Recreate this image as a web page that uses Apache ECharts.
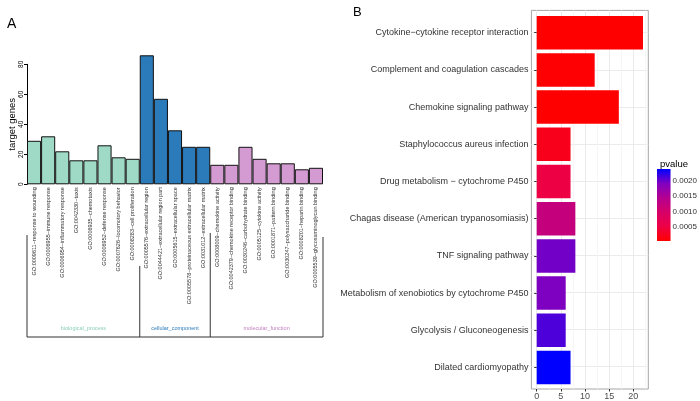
<!DOCTYPE html>
<html><head><meta charset="utf-8">
<script src="https://cdn.jsdelivr.net/npm/echarts@6/dist/echarts.min.js"></script>
<style>html,body{margin:0;padding:0;background:#fff}#c{width:700px;height:401px}</style>
</head><body><div id="c"></div>
<script>
// ---------- Panel A: GO terms ----------
const goTerms = [
  'GO:0009611~response to wounding',
  'GO:0006955~immune response',
  'GO:0006954~inflammatory response',
  'GO:0042330~taxis',
  'GO:0006935~chemotaxis',
  'GO:0006952~defense response',
  'GO:0007626~locomotory behavior',
  'GO:0008283~cell proliferation',
  'GO:0005576~extracellular region',
  'GO:0044421~extracellular region part',
  'GO:0005615~extracellular space',
  'GO:0005578~proteinaceous extracellular matrix',
  'GO:0031012~extracellular matrix',
  'GO:0008009~chemokine activity',
  'GO:0042379~chemokine receptor binding',
  'GO:0030246~carbohydrate binding',
  'GO:0005125~cytokine activity',
  'GO:0001871~pattern binding',
  'GO:0030247~polysaccharide binding',
  'GO:0008201~heparin binding',
  'GO:0005539~glycosaminoglycan binding'
];
const goCounts = [29, 32, 22, 16, 16, 26, 18, 17, 86, 57, 36, 25, 25, 13, 13, 25, 17, 14, 14, 10, 11];
const goGroupNames = ['biological_process', 'cellular_component', 'molecular_function'];
const goGroupSizes = [8, 5, 8];
const goTicks = [0, 20, 40, 60, 80];

// ---------- Panel B: KEGG pathways ----------
const keggTerms = [
  'Cytokine\u2212cytokine receptor interaction',
  'Complement and coagulation cascades',
  'Chemokine signaling pathway',
  'Staphylococcus aureus infection',
  'Drug metabolism \u2212 cytochrome P450',
  'Chagas disease (American trypanosomiasis)',
  'TNF signaling pathway',
  'Metabolism of xenobiotics by cytochrome P450',
  'Glycolysis / Gluconeogenesis',
  'Dilated cardiomyopathy'
];
const keggCounts = [22, 12, 17, 7, 7, 8, 8, 6, 6, 7];
const keggPvalues = [0.00005, 0.00007, 0.00006, 0.00024, 0.00052, 0.00122, 0.00196, 0.00192, 0.00210, 0.00238];
const countTicks = [0, 5, 10, 15, 20];
const countMinorTicks = [2.5, 7.5, 12.5, 17.5, 22.5];
const pvalueTicks = [0.0005, 0.0010, 0.0015, 0.0020];

// ---------- styles ----------
const groupColors = ['#9fdac7', '#2b7bba', '#d49bd3'];
const groupTextColors = ['#8ccfb9', '#2b7bba', '#c27fc0'];
const pColors = ['#ff0000', '#ee0045', '#d70068', '#b40090', '#8000c0', '#0000ff'];
const FONT = 'Liberation Sans, Arial, sans-serif';

const pMin = Math.min(...keggPvalues);
const pMax = Math.max(...keggPvalues);
const countMin = -1.1, countMax = 23.1;

const groupOfIndex = [];
goGroupSizes.forEach((s, g) => { for (let k = 0; k < s; k++) groupOfIndex.push(g); });

const chart = echarts.init(document.getElementById('c'));

const option = {
  animation: false,
  backgroundColor: '#fff',
  textStyle: { fontFamily: FONT },
  title: [
    { text: 'A', left: 2, top: 12, textStyle: { fontSize: 14, fontWeight: 'normal', color: '#000', fontFamily: FONT } },
    { text: 'B', left: 348, top: 1, textStyle: { fontSize: 13, fontWeight: 'normal', color: '#000', fontFamily: FONT } },
    { text: 'pvalue', left: 655, top: 154, textStyle: { fontSize: 9.5, fontWeight: 'normal', color: '#000', fontFamily: FONT } }
  ],
  grid: [
    { left: 27, top: 64.3, width: 296, height: 120 },               // A
    { left: 531.4, top: 14.1, width: 116.9, height: 372 },          // B bars
    { left: 531.4, top: 10.4, width: 116.9, height: 379.4, show: true, borderColor: '#a6a6a6', borderWidth: 1, backgroundColor: 'transparent' }, // B panel
    { left: 657, top: 169, width: 15, height: 72 }                  // colorbar
  ],
  xAxis: [
    { type: 'category', gridIndex: 0, data: goTerms,
      axisLine: { show: false }, axisTick: { show: false },
      axisLabel: { rotate: 90, interval: 0, fontSize: 5.5, margin: 3, color: '#333', fontFamily: FONT } },
    { type: 'value', gridIndex: 1, min: countMin, max: countMax, show: false },
    { type: 'value', gridIndex: 2, min: countMin, max: countMax,
      axisLine: { show: false },
      axisTick: { show: true, length: 2.5, lineStyle: { color: '#333', width: 1 }, customValues: countTicks },
      axisLabel: { show: true, fontSize: 9, margin: 3, color: '#4d4d4d', customValues: countTicks, fontFamily: FONT },
      splitLine: { show: true, lineStyle: { color: '#ebebeb', width: 1 } } },
    { type: 'value', gridIndex: 2, min: countMin, max: countMax,
      axisLine: { show: false },
      axisTick: { show: false, customValues: countMinorTicks },
      axisLabel: { show: false },
      splitLine: { show: true, lineStyle: { color: '#f4f4f4', width: 0.8 } } },
    { type: 'category', gridIndex: 3, data: ['p'], show: false }
  ],
  yAxis: [
    { type: 'value', gridIndex: 0, min: 0, max: 80, interval: 20,
      name: 'target genes', nameLocation: 'middle', nameGap: 9, nameRotate: 90,
      nameTextStyle: { fontSize: 9.5, color: '#000', fontFamily: FONT },
      axisLine: { show: true, lineStyle: { color: '#000', width: 1 } },
      axisTick: { show: true, length: 3, lineStyle: { color: '#000' } },
      axisLabel: { rotate: 90, fontSize: 6.5, margin: 2, color: '#000', fontFamily: FONT },
      splitLine: { show: false } },
    { type: 'category', gridIndex: 1, data: keggTerms, inverse: true,
      axisLine: { show: false },
      axisTick: { show: true, length: 2.5, alignWithLabel: true, lineStyle: { color: '#333' } },
      axisLabel: { fontSize: 9, margin: 3, color: '#333', fontFamily: FONT },
      splitLine: { show: false } },
    { type: 'value', gridIndex: 2, min: 0.4, max: keggTerms.length + 0.6, inverse: true,
      axisLine: { show: false },
      axisTick: { show: false, customValues: keggTerms.map((_, i) => i + 1) },
      axisLabel: { show: false },
      splitLine: { show: true, lineStyle: { color: '#ebebeb', width: 1 } } },
    { type: 'value', gridIndex: 3, min: pMin, max: pMax, position: 'right',
      axisLine: { show: false },
      axisTick: { show: true, inside: true, length: 3, lineStyle: { color: '#fff', width: 1 }, customValues: pvalueTicks },
      axisLabel: { show: true, fontSize: 8, margin: 2, color: '#333', customValues: pvalueTicks,
        formatter: v => Number(v).toFixed(4), fontFamily: FONT },
      splitLine: { show: false } },
    { type: 'value', gridIndex: 3, min: pMin, max: pMax, position: 'left',
      axisLine: { show: false },
      axisTick: { show: true, inside: true, length: 3, lineStyle: { color: '#fff', width: 1 }, customValues: pvalueTicks },
      axisLabel: { show: false },
      splitLine: { show: false } }
  ],
  visualMap: [
    { type: 'continuous', show: false, seriesIndex: 1, dimension: 2, min: pMin, max: pMax,
      inRange: { color: pColors } }
  ],
  series: [
    { type: 'bar', xAxisIndex: 0, yAxisIndex: 0, clip: false, barCategoryGap: 0,
      data: goCounts.map((v, i) => ({ value: v, itemStyle: { color: groupColors[groupOfIndex[i]] } })),
      itemStyle: { borderColor: '#111', borderWidth: 1 } },
    { type: 'bar', xAxisIndex: 1, yAxisIndex: 1, barCategoryGap: '10%',
      encode: { x: 0, y: 1 },
      data: keggTerms.map((t, i) => [keggCounts[i], t, keggPvalues[i]]) },
    { type: 'bar', xAxisIndex: 4, yAxisIndex: 3, barWidth: '100%', silent: true,
      data: [pMax],
      itemStyle: { color: { type: 'linear', x: 0, y: 1, x2: 0, y2: 0,
        colorStops: pColors.map((c, i) => ({ offset: i / (pColors.length - 1), color: c })) } } }
  ]
};
chart.setOption(option);

// group brackets under panel A, positioned from the category axis
const c0 = chart.convertToPixel({ xAxisIndex: 0 }, goTerms[0]);
const c1 = chart.convertToPixel({ xAxisIndex: 0 }, goTerms[1]);
const band = c1 - c0;
const startX = c0 - band / 2;
const edges = [startX];
let acc = 0;
goGroupSizes.forEach(s => { acc += s; edges.push(startX + acc * band); });
const bracketTops = [235, 266, 233, 237];
const bracketBottom = 337;
const graphics = [];
edges.forEach((x, i) => {
  graphics.push({ type: 'line', shape: { x1: x, y1: bracketTops[i], x2: x, y2: bracketBottom },
    style: { stroke: '#333', lineWidth: 1 }, silent: true });
});
graphics.push({ type: 'line', shape: { x1: edges[0], y1: bracketBottom, x2: edges[edges.length - 1], y2: bracketBottom },
  style: { stroke: '#333', lineWidth: 1 }, silent: true });
goGroupNames.forEach((n, g) => {
  graphics.push({ type: 'text', x: (edges[g] + edges[g + 1]) / 2, y: 328,
    style: { text: n, fill: groupTextColors[g], font: '5.5px ' + FONT, textAlign: 'center', textVerticalAlign: 'middle' }, silent: true });
});
chart.setOption({ graphic: graphics });
</script>
</body></html>
